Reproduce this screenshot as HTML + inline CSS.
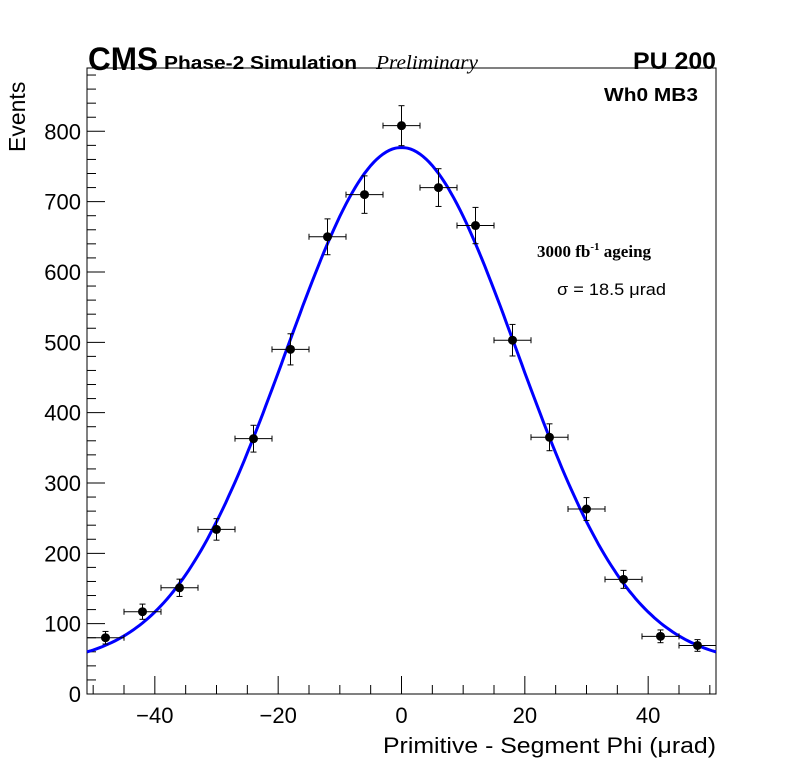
<!DOCTYPE html>
<html><head><meta charset="utf-8"><style>
body{margin:0;background:#fff;}
svg text{font-family:"Liberation Sans",sans-serif;}
</style></head><body>
<svg id="chart" width="796" height="772" xmlns="http://www.w3.org/2000/svg">
<rect width="796" height="772" fill="#fff"/>
<g id="axes"></g>
<g id="marks"></g>
<text x="88" y="70" font-size="32" font-weight="bold" textLength="70" lengthAdjust="spacingAndGlyphs">CMS</text>
<text x="164" y="69" font-size="18" font-weight="bold" textLength="193" lengthAdjust="spacingAndGlyphs">Phase-2 Simulation</text>
<text x="376" y="69" font-size="20" font-style="italic" textLength="102" lengthAdjust="spacingAndGlyphs" style="font-family:'Liberation Serif',serif">Preliminary</text>
<text x="633" y="69" font-size="24" font-weight="bold" textLength="83" lengthAdjust="spacingAndGlyphs">PU 200</text>
<text x="604" y="101" font-size="18" font-weight="bold" textLength="94" lengthAdjust="spacingAndGlyphs">Wh0 MB3</text>
<text x="537" y="257" font-size="17" font-weight="bold" style="font-family:'Liberation Serif',serif">3000 fb<tspan dy="-7" font-size="11">-1</tspan><tspan dy="7"> ageing</tspan></text>
<text x="557" y="295" font-size="17" textLength="109" lengthAdjust="spacingAndGlyphs">σ = 18.5 μrad</text>
<text transform="translate(25,152) rotate(-90)" font-size="23">Events</text>
<text x="383" y="753" font-size="22" textLength="333" lengthAdjust="spacingAndGlyphs">Primitive - Segment Phi (μrad)</text>
</svg>
<script>
const binCenters=[-48,-42,-36,-30,-24,-18,-12,-6,0,6,12,18,24,30,36,42,48];
const counts=[80,117,151,234,363,490,650,710,808,720,666,503,365,263,163,82,69];
const fitAmp=735, fitMean=0, fitSigma=18.7, fitConst=42;
const xTicks=[-40,-20,0,20,40];
const yTicks=[0,100,200,300,400,500,600,700,800];
const X0=87,X1=716,Y0=694,Y1=68,xmin=-51,xmax=51,ymin=0,ymax=890;
const xs=v=>X0+(v-xmin)/(xmax-xmin)*(X1-X0);
const ys=v=>Y0-(v-ymin)/(ymax-ymin)*(Y0-Y1);
const NS="http://www.w3.org/2000/svg";
function mk(tag,attrs,parent){const e=document.createElementNS(NS,tag);for(const k in attrs)e.setAttribute(k,attrs[k]);parent.appendChild(e);return e;}
const ax=document.getElementById('axes'),mg=document.getElementById('marks');
const frame=mk('rect',{x:X0,y:Y1,width:X1-X0,height:Y0-Y1,fill:'none',stroke:'#000','stroke-width':1},ax);


for(let v=-50;v<=50;v+=5){const big=v%20===0;const t=mk('line',{x1:xs(v),x2:xs(v),y1:Y0,y2:Y0-(big?18:9),stroke:'#000'},ax);

}
xTicks.forEach(v=>{const t=mk('text',{x:xs(v),y:Y0+29,'font-size':22,'text-anchor':'middle'},ax);t.textContent=(v<0?'\u2212'+(-v):v);

});
for(let v=0;v<=ymax;v+=20){const big=v%100===0;const t=mk('line',{x1:X0,x2:X0+(big?18:9),y1:ys(v),y2:ys(v),stroke:'#000'},ax);

}
yTicks.forEach(v=>{const t=mk('text',{x:X0-6,y:ys(v)+8,'font-size':22,'text-anchor':'end'},ax);t.textContent=v;

});
let d='';for(let x=xmin;x<=xmax;x+=0.5){const y=fitConst+fitAmp*Math.exp(-0.5*((x-fitMean)/fitSigma)**2);d+=(d?'L':'M')+xs(x).toFixed(1)+','+ys(y).toFixed(1);}
const fit=mk('path',{d:d,fill:'none',stroke:'#0000ff','stroke-width':3},mg);


binCenters.forEach((c,i)=>{const n=counts[i],e=Math.sqrt(n);const g=mk('g',{},mg);


const x=xs(c),y=ys(n),xl=xs(c-3),xr=xs(c+3),yt=ys(n+e),yb=ys(n-e);
mk('line',{x1:xl,x2:xr,y1:y,y2:y,stroke:'#000'},g);
mk('line',{x1:xl,x2:xl,y1:y-3,y2:y+3,stroke:'#000'},g);
mk('line',{x1:xr,x2:xr,y1:y-3,y2:y+3,stroke:'#000'},g);
mk('line',{x1:x,x2:x,y1:yt,y2:yb,stroke:'#000'},g);
mk('line',{x1:x-3,x2:x+3,y1:yt,y2:yt,stroke:'#000'},g);
mk('line',{x1:x-3,x2:x+3,y1:yb,y2:yb,stroke:'#000'},g);
mk('circle',{cx:x,cy:y,r:4.5,fill:'#000'},g);});
</script>
</body></html>
